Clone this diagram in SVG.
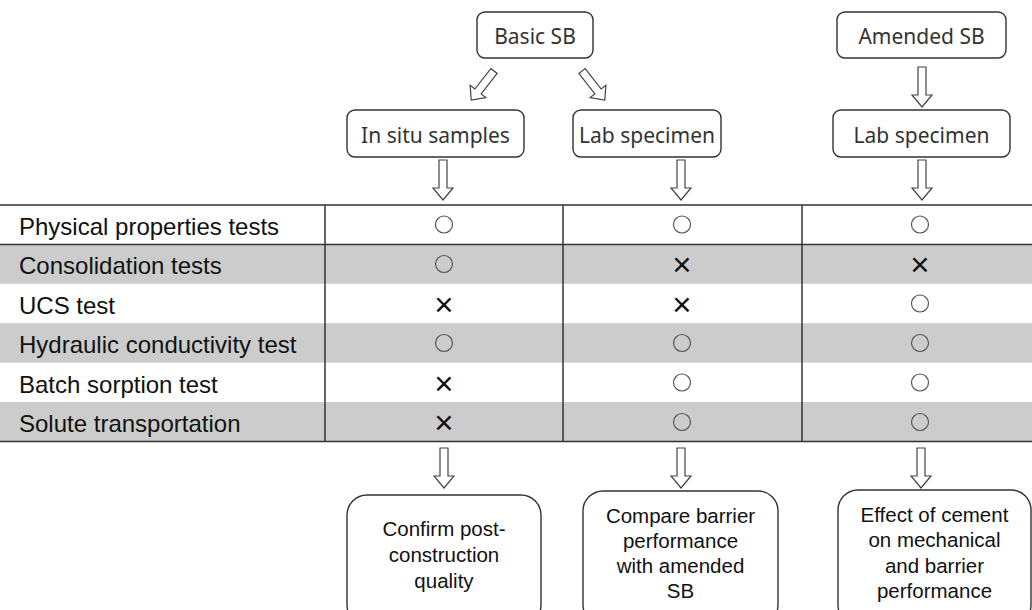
<svg xmlns="http://www.w3.org/2000/svg" width="1032" height="610" viewBox="0 0 1032 610">
<defs>
<style>
.box{fill:#fff;stroke:#333;stroke-width:1.4}
.top{font-family:"Noto Sans","Liberation Sans",sans-serif;font-size:21px;fill:#333;text-anchor:middle}
.bot{font-family:"Liberation Sans",Arial,sans-serif;font-size:20.5px;fill:#111;text-anchor:middle}
.lbl{font-family:"Liberation Sans",Arial,sans-serif;font-size:24px;fill:#111}
.sym{font-family:"Liberation Sans",Arial,sans-serif;font-size:33px;fill:#111;text-anchor:middle}
.circ{fill:none;stroke:#555;stroke-width:1.2}
.arr{fill:#fff;stroke:#444;stroke-width:1.2;stroke-linejoin:miter}
.grid{stroke:#333;stroke-width:1.5;fill:none}
.gray{fill:#cccccc}
</style>
<polygon id="dn" points="-4,0 4,0 4,28 10,28 0,40 -10,28 -4,28"/>
<polygon id="dg" points="-4,0 4,0 4,26 10,26 0,37 -10,26 -4,26"/>
</defs>
<rect width="1032" height="610" fill="#fff"/>
<g id="table">
<rect class="gray" x="0" y="244.4" width="1032" height="39.4"/>
<rect class="gray" x="0" y="323.2" width="1032" height="39.4"/>
<rect class="gray" x="0" y="402" width="1032" height="39.4"/>
<line class="grid" x1="0" y1="205" x2="1032" y2="205" stroke="#555"/>
<line class="grid" x1="0" y1="244.4" x2="1032" y2="244.4"/>
<line class="grid" x1="0" y1="441.4" x2="1032" y2="441.4"/>
<line class="grid" x1="325" y1="205" x2="325" y2="441.4"/>
<line class="grid" x1="563" y1="205" x2="563" y2="441.4"/>
<line class="grid" x1="802" y1="205" x2="802" y2="441.4"/>
<text class="lbl" x="19" y="235">Physical properties tests</text>
<text class="lbl" x="19" y="274">Consolidation tests</text>
<text class="lbl" x="19" y="314">UCS test</text>
<text class="lbl" x="19" y="353">Hydraulic conductivity test</text>
<text class="lbl" x="19" y="393">Batch sorption test</text>
<text class="lbl" x="19" y="432">Solute transportation</text>
<circle class="circ" cx="444" cy="224.5" r="8.5"/>
<circle class="circ" cx="682" cy="224.5" r="8.5"/>
<circle class="circ" cx="920" cy="224.5" r="8.5"/>
<circle class="circ" cx="444" cy="264" r="8.5"/>
<text class="sym" x="682" y="276">×</text>
<text class="sym" x="920" y="276">×</text>
<text class="sym" x="444" y="315.5">×</text>
<text class="sym" x="682" y="315.5">×</text>
<circle class="circ" cx="920" cy="303.5" r="8.5"/>
<circle class="circ" cx="444" cy="343" r="8.5"/>
<circle class="circ" cx="682" cy="343" r="8.5"/>
<circle class="circ" cx="920" cy="343" r="8.5"/>
<text class="sym" x="444" y="394.5">×</text>
<circle class="circ" cx="682" cy="382.5" r="8.5"/>
<circle class="circ" cx="920" cy="382.5" r="8.5"/>
<text class="sym" x="444" y="434">×</text>
<circle class="circ" cx="682" cy="422" r="8.5"/>
<circle class="circ" cx="920" cy="422" r="8.5"/>
</g>
<g id="basic-sb">
<rect class="box" x="477" y="12" width="116" height="46" rx="8"/>
<text class="top" x="535" y="43.5">Basic SB</text>
</g>
<g id="amended-sb">
<rect class="box" x="837" y="12" width="169" height="46" rx="8"/>
<text class="top" x="921.5" y="43.5">Amended SB</text>
</g>
<g id="in-situ">
<rect class="box" x="347" y="110" width="177" height="47" rx="8"/>
<text class="top" x="435.5" y="142.5">In situ samples</text>
</g>
<g id="lab-basic">
<rect class="box" x="573" y="110" width="148" height="47" rx="8"/>
<text class="top" x="647" y="142.5">Lab specimen</text>
</g>
<g id="lab-amended">
<rect class="box" x="833" y="110" width="177" height="47" rx="8"/>
<text class="top" x="921.5" y="142.5">Lab specimen</text>
</g>
<g id="out-confirm">
<rect class="box" x="347" y="495" width="194" height="130" rx="20"/>
<text class="bot" x="444" y="536">Confirm post-</text>
<text class="bot" x="444" y="562">construction</text>
<text class="bot" x="444" y="588">quality</text>
</g>
<g id="out-compare">
<rect class="box" x="583" y="491" width="195" height="134" rx="20"/>
<text class="bot" x="680.5" y="523">Compare barrier</text>
<text class="bot" x="680.5" y="548">performance</text>
<text class="bot" x="680.5" y="573">with amended</text>
<text class="bot" x="680.5" y="598">SB</text>
</g>
<g id="out-effect">
<rect class="box" x="838" y="490" width="193" height="135" rx="20"/>
<text class="bot" x="934.5" y="522">Effect of cement</text>
<text class="bot" x="934.5" y="547">on mechanical</text>
<text class="bot" x="934.5" y="572.5">and barrier</text>
<text class="bot" x="934.5" y="598">performance</text>
</g>
<g id="connectors">
<use href="#dg" class="arr" transform="translate(494,71) rotate(38)"/>
<use href="#dg" class="arr" transform="translate(582,71) rotate(-38)"/>
<use href="#dn" class="arr" transform="translate(922,67)"/>
<use href="#dn" class="arr" transform="translate(443,160)"/>
<use href="#dn" class="arr" transform="translate(681,160)"/>
<use href="#dn" class="arr" transform="translate(922,160)"/>
<use href="#dn" class="arr" transform="translate(444,448)"/>
<use href="#dn" class="arr" transform="translate(681,448)"/>
<use href="#dn" class="arr" transform="translate(921,448)"/>
</g>
</svg>
